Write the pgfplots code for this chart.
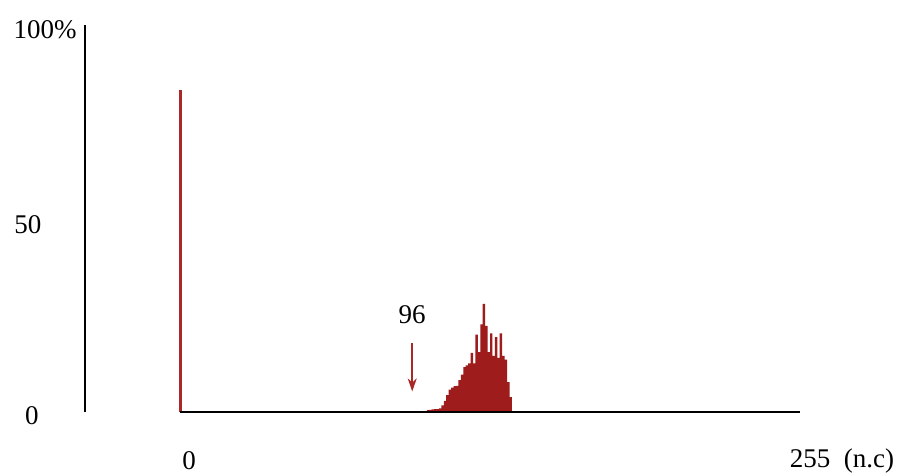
\documentclass[border=0pt]{standalone}
\usepackage{pgfplots}
\pgfplotsset{compat=1.18}
\usetikzlibrary{arrows.meta}
\usepackage{fontspec}
\setmainfont{Liberation Serif}
\definecolor{histred}{RGB}{158,28,28}
\definecolor{barred}{RGB}{170,40,40}
\begin{document}
\begin{tikzpicture}
\begin{axis}[
  scale only axis,
  width=715pt, height=385.2pt,
  xmin=-39.1, xmax=255, ymin=0, ymax=103,
  axis lines=none,
  clip=false,
]
\addplot[ycomb, line width=2.6pt, barred] coordinates {(0.3,86)};
\addplot[ybar, bar width=1.02, fill=histred, draw=none] coordinates {
(102,0.5) (103,0.6) (104,0.7) (105,0.8) (106,0.8) (107,1.0) (108,1.8)
(109,3.0) (110,4.5) (111,6.0) (112,6.5) (113,6.9) (114,7.0) (115,8.5)
(116,10) (117,12) (118,12.5) (119,13) (120,15.8) (121,13) (122,20.7)
(123,16) (124,23.4) (125,28.9) (126,23) (127,16) (128,21) (129,15)
(130,20) (131,14.5) (132,21) (133,15) (134,14) (135,8) (136,4)
};
\draw[line width=1.8pt, black] (axis cs:-39.1,0) -- (axis cs:-39.1,103.5);
\draw[line width=1.8pt, black] (axis cs:0,0) -- (axis cs:255,0);
\draw[line width=1.6pt, barred, -{Stealth[length=13pt,width=9pt,inset=4pt]}] (axis cs:95.5,18.5) -- (axis cs:95.5,5.5);
\end{axis}
\fontsize{27}{31}\selectfont
\node at (-40pt,382pt) {100\%};
\node at (-57pt,187pt) {50};
\node at (-53pt,-4pt) {0};
\node at (104pt,-49pt) {0};
\node at (757pt,-49pt) {255\ \ (n.c)};
\node at (327pt,97pt) {96};
\pgfresetboundingbox
\path (-85pt,-63pt) rectangle (815pt,412pt);
\end{tikzpicture}
\end{document}
